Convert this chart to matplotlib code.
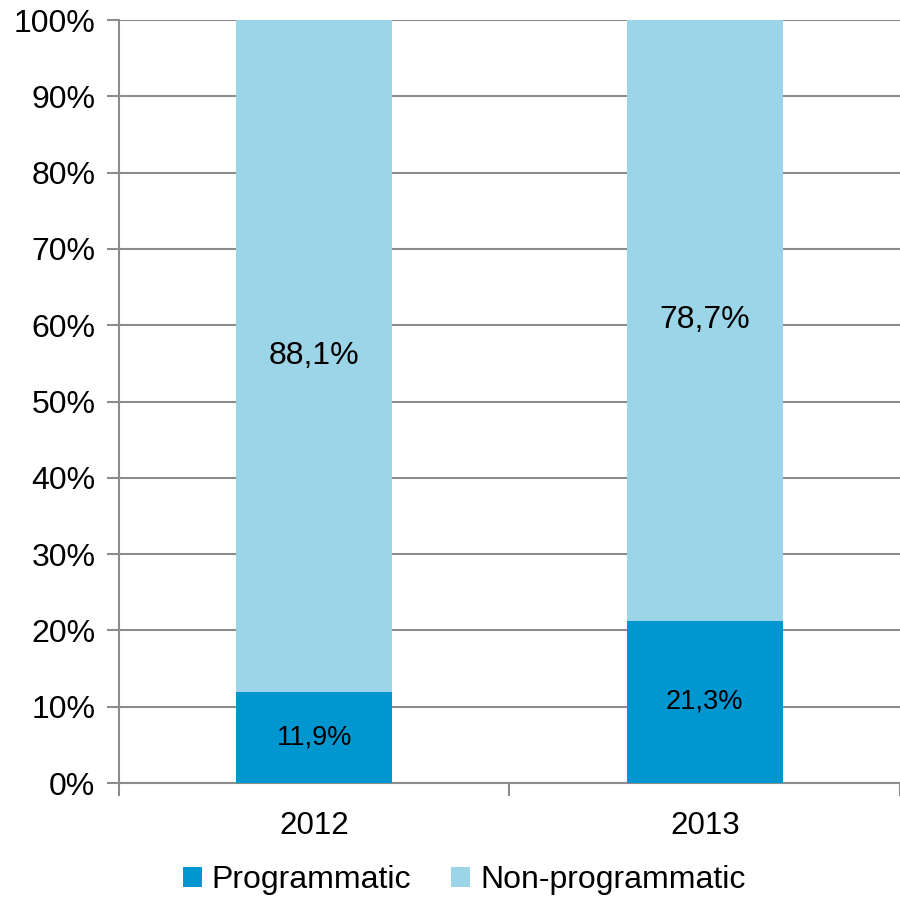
import matplotlib.pyplot as plt
import numpy as np

plt.rcParams['font.family'] = ['Liberation Sans', 'DejaVu Sans']

years = ["2012", "2013"]
programmatic = [11.9, 21.3]
non_programmatic = [88.1, 78.7]
series_names = ["Programmatic", "Non-programmatic"]
colors = ["#0096d0", "#9dd5e8"]
grid_color = "#8c8c8c"

fig = plt.figure(figsize=(9, 8.98), dpi=100)
ax = fig.add_axes([0.1322, 0.128, 0.8678, 0.8497])

x = np.arange(len(years))
width = 0.40
b1 = ax.bar(x, programmatic, width, color=colors[0], label=series_names[0], zorder=3)
b2 = ax.bar(x, non_programmatic, width, bottom=programmatic, color=colors[1],
            label=series_names[1], zorder=3)

# value labels in the middle of each segment
for i in range(len(years)):
    ax.text(x[i], programmatic[i] / 2, f"{programmatic[i]:.1f}%".replace(".", ","),
            ha="center", va="center", fontsize=19.5, zorder=4)
    ax.text(x[i], programmatic[i] + non_programmatic[i] / 2,
            f"{non_programmatic[i]:.1f}%".replace(".", ","),
            ha="center", va="center", fontsize=23, zorder=4)

ax.set_xlim(-0.5, len(years) - 0.5)
ax.set_ylim(0, 100)
ax.set_yticks(np.arange(0, 101, 10))
ax.set_yticklabels([f"{v}%" for v in range(0, 101, 10)])
ax.yaxis.grid(True, color=grid_color, linewidth=1.5, zorder=0)

ax.set_xticks(x)
ax.set_xticklabels(years)
ax.set_xticks(np.arange(-0.5, len(years), 1.0), minor=True)
ax.tick_params(axis="x", which="major", length=0, pad=20, labelsize=22.5)
ax.tick_params(axis="x", which="minor", length=9, width=1.5, color=grid_color)
ax.tick_params(axis="y", length=9, width=1.5, color=grid_color, labelsize=23, pad=8)

for s in ["top", "right"]:
    ax.spines[s].set_visible(False)
for s in ["left", "bottom"]:
    ax.spines[s].set_color(grid_color)
    ax.spines[s].set_linewidth(1.5)

ax.legend(loc="center", bbox_to_anchor=(0.442, -0.127), ncol=2, frameon=False,
          fontsize=23, handlelength=0.6, handleheight=0.6, handletextpad=0.3,
          columnspacing=1.25, borderpad=0)

fig.savefig("out.png", dpi=100)
